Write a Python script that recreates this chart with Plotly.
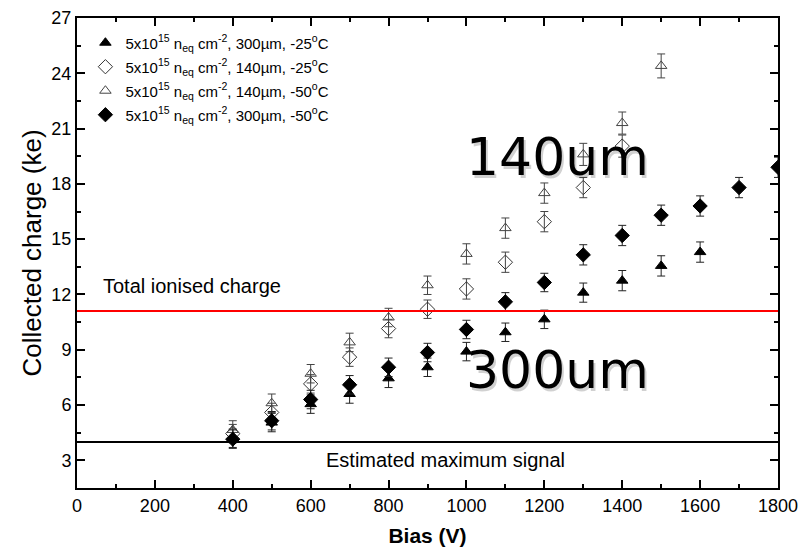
import plotly.graph_objects as go

# Bias values (V)
bias_a = [400, 500, 600, 700, 800, 900, 1000, 1100, 1200, 1300, 1400, 1500, 1600]
bias_b = [400, 500, 600, 700, 800, 900, 1000, 1100, 1200, 1300, 1400]
bias_c = [400, 500, 600, 700, 800, 900, 1000, 1100, 1200, 1300, 1400, 1500]
bias_d = [400, 500, 600, 700, 800, 900, 1000, 1100, 1200, 1300, 1400, 1500, 1600, 1700, 1800]

# Collected charge (ke)
q_300_m25 = [4.2, 5.05, 6.05, 6.6, 7.45, 8.05, 8.9, 9.95, 10.65, 12.1, 12.75, 13.55, 14.3]
q_140_m25 = [4.45, 5.6, 7.15, 8.6, 10.15, 11.2, 12.3, 13.75, 15.95, 17.8, 20.05]
q_140_m50 = [4.65, 6.1, 7.7, 9.4, 10.75, 12.5, 14.2, 15.6, 17.5, 19.6, 21.3, 24.4]
q_300_m50 = [4.15, 5.15, 6.3, 7.1, 8.05, 8.85, 10.1, 11.6, 12.65, 14.15, 15.2, 16.3, 16.8, 17.8, 18.9]

# Error bars (ke)
e_300_m25 = [0.5, 0.5, 0.5, 0.5, 0.5, 0.5, 0.5, 0.5, 0.5, 0.52, 0.55, 0.55, 0.55]
e_140_m25 = [0.5, 0.5, 0.5, 0.5, 0.5, 0.5, 0.55, 0.55, 0.55, 0.55, 0.6]
e_140_m50 = [0.5, 0.5, 0.5, 0.5, 0.5, 0.5, 0.55, 0.55, 0.55, 0.6, 0.6, 0.65]
e_300_m50 = [0.5, 0.5, 0.5, 0.5, 0.5, 0.5, 0.5, 0.5, 0.5, 0.55, 0.55, 0.55, 0.55, 0.55, 0.55]

names = [
    "5x10<sup>15</sup> n<sub>eq</sub> cm<sup>-2</sup>, 300µm, -25<sup>o</sup>C",
    "5x10<sup>15</sup> n<sub>eq</sub> cm<sup>-2</sup>, 140µm, -25<sup>o</sup>C",
    "5x10<sup>15</sup> n<sub>eq</sub> cm<sup>-2</sup>, 140µm, -50<sup>o</sup>C",
    "5x10<sup>15</sup> n<sub>eq</sub> cm<sup>-2</sup>, 300µm, -50<sup>o</sup>C",
]

total_ionised = 11.1
est_max = 4.0

x_ticks = list(range(0, 1801, 200))
y_ticks = list(range(3, 28, 3))

FONT = "Liberation Sans, Arial, sans-serif"

fig = go.Figure()

def add(x, y, e, name, group, symbol, size, col, err_col):
    fig.add_trace(go.Scatter(
        x=x, y=y, name=name, mode="markers", legendgroup=group,
        marker=dict(symbol=symbol, size=size, color=col,
                    line=dict(color=col, width=1)),
        error_y=dict(type="data", array=e, visible=True, color=err_col,
                     thickness=1, width=4),
    ))

add(bias_a, q_300_m25, e_300_m25, names[0], "g1", "triangle-up", 10, "black", "#222")
add(bias_b, q_140_m25, e_140_m25, names[1], "g2", "diamond-open", 11, "#333", "#444")
add(bias_c, q_140_m50, e_140_m50, names[2], "g3", "triangle-up-open", 10, "#444", "#444")
add(bias_d, q_300_m50, e_300_m50, names[3], "g4", "diamond", 11, "black", "#222")

fig.add_shape(type="line", xref="paper", x0=0, x1=1, yref="y",
              y0=total_ionised, y1=total_ionised, line=dict(color="#ff0000", width=2))
fig.add_shape(type="line", xref="paper", x0=0, x1=1, yref="y",
              y0=est_max, y1=est_max, line=dict(color="black", width=2))

fig.add_annotation(x=62, y=12.46, xref="x", yref="y", text="Total ionised charge",
                   showarrow=False, xanchor="left", yanchor="middle",
                   font=dict(family=FONT, size=20, color="black"))
fig.add_annotation(x=945, y=3.0, xref="x", yref="y", text="Estimated maximum signal",
                   showarrow=False, xanchor="center", yanchor="middle",
                   font=dict(family=FONT, size=20, color="black"))

for txt, yv in [("140um", 19.45), ("300um", 7.9)]:
    fig.add_annotation(x=1235, y=yv, xref="x", yref="y", text=txt, showarrow=False,
                       xanchor="center", yanchor="middle", xshift=2, yshift=-3,
                       font=dict(family="DejaVu Sans", size=52, color="rgba(0,0,0,0.18)"))
    fig.add_annotation(x=1235, y=yv, xref="x", yref="y", text=txt, showarrow=False,
                       xanchor="center", yanchor="middle",
                       font=dict(family="DejaVu Sans", size=52, color="black"))

axis_common = dict(showline=True, linecolor="black", linewidth=2, mirror="ticks",
                   ticks="inside", ticklen=8, tickwidth=1.5, tickcolor="black",
                   showgrid=False, zeroline=False, automargin=False,
                   tickfont=dict(family=FONT, size=18, color="black"))

fig.update_xaxes(range=[0, 1800], tickvals=x_ticks,
                 minor=dict(ticks="inside", ticklen=4, dtick=100, tick0=0,
                            tickcolor="black", tickwidth=1.5, showgrid=False),
                 title=dict(text="<b>Bias (V)</b>", font=dict(family=FONT, size=21, color="black"),
                            standoff=14),
                 **axis_common)
fig.update_yaxes(range=[1.5, 27], tickvals=y_ticks,
                 minor=dict(ticks="inside", ticklen=4, dtick=1.5, tick0=0,
                            tickcolor="black", tickwidth=1.5, showgrid=False),
                 title=dict(text="Collected charge (ke)", font=dict(family=FONT, size=26, color="black"),
                            standoff=2),
                 **axis_common)

fig.update_layout(
    width=800, height=548,
    margin=dict(l=77, r=22, t=18, b=60),
    paper_bgcolor="white", plot_bgcolor="white",
    showlegend=True,
    legend=dict(x=0.012, y=0.982, xanchor="left", yanchor="top",
                bgcolor="rgba(0,0,0,0)", borderwidth=0,
                font=dict(family=FONT, size=15, color="black"),
                tracegroupgap=1.5, itemwidth=30),
)

fig.write_html("out.html")
